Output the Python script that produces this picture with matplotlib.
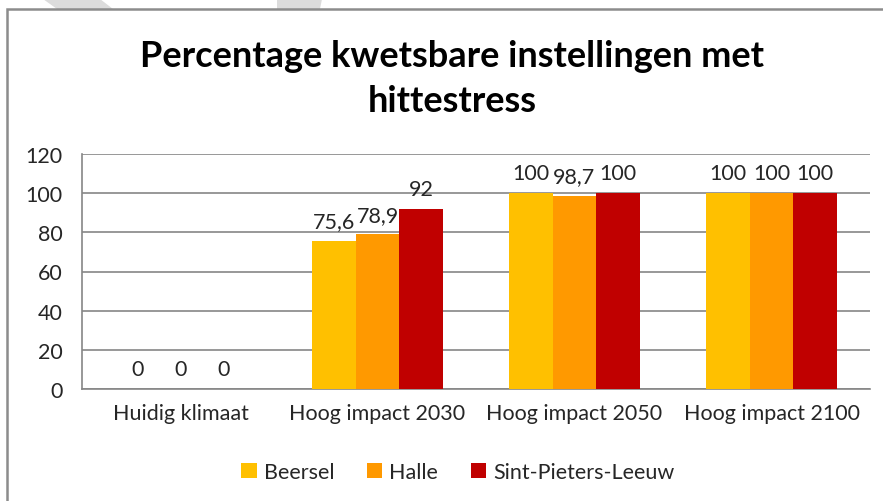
import numpy as np
import matplotlib
matplotlib.use("Agg")
import matplotlib.pyplot as plt
from matplotlib.patches import Rectangle, Polygon

plt.rcParams['font.family'] = ['Lato', 'DejaVu Sans']

categories = ["Huidig klimaat", "Hoog impact 2030", "Hoog impact 2050", "Hoog impact 2100"]
series_names = ["Beersel", "Halle", "Sint-Pieters-Leeuw"]
beersel = [0, 75.6, 100, 100]
halle = [0, 78.9, 98.7, 100]
spl = [0, 92, 100, 100]
yticks = [0, 20, 40, 60, 80, 100, 120]

colors = ["#FFC000", "#FF9900", "#C00000"]
text_color = "#262626"
grid_color = "#868686"

fig = plt.figure(figsize=(8.83, 5.02), dpi=100)
fig.patch.set_facecolor("white")

# chart border + faint watermark shapes at the top
fig.patches.append(Polygon([(43 / 883, 1), (100 / 883, 1), (113 / 883, 1 - 10 / 502), (57 / 883, 1 - 10 / 502)],
                           transform=fig.transFigure, facecolor="#dcdcdc", edgecolor="none", zorder=0))
fig.patches.append(Polygon([(277 / 883, 1), (322 / 883, 1), (320 / 883, 1 - 10 / 502), (277 / 883, 1 - 10 / 502)],
                           transform=fig.transFigure, facecolor="#dcdcdc", edgecolor="none", zorder=0))
fig.patches.append(Rectangle((7 / 883, -0.1), 1.2, 1 - 10 / 502 + 0.1,
                             transform=fig.transFigure, fill=False,
                             edgecolor="#8c8c8c", linewidth=1.8))

ax = fig.add_axes([82 / 883, 1 - 390 / 502, 788 / 883, 235 / 502])

x = np.arange(len(categories))
w = 0.22
for i, (vals, name) in enumerate(zip([beersel, halle, spl], series_names)):
    bars = ax.bar(x + (i - 1) * w, vals, w, color=colors[i], label=name, zorder=3)
    labels = [f"{v:g}".replace(".", ",") for v in vals]
    ax.bar_label(bars, labels=labels, padding=7, fontsize=15.5, color=text_color)

ax.set_xlim(-0.5, len(categories) - 0.5)
ax.set_ylim(0, 120)
ax.set_yticks(yticks)
ax.yaxis.grid(True, color=grid_color, linewidth=1.2, zorder=0)
ax.set_axisbelow(True)
ax.tick_params(axis="both", length=0, labelsize=15.5, colors=text_color)
ax.tick_params(axis="y", pad=14)
ax.tick_params(axis="x", pad=10)
ax.set_xticks(x)
ax.set_xticklabels(categories)
for s in ["top", "right"]:
    ax.spines[s].set_visible(False)
for s in ["left", "bottom"]:
    ax.spines[s].set_color(grid_color)
    ax.spines[s].set_linewidth(1.2)

fig.text(452 / 883, 1 - 79 / 502, "Percentage kwetsbare instellingen met\nhittestress",
         ha="center", va="center", fontsize=26, fontweight="bold", color="black",
         linespacing=1.45)

ax.legend(loc="center", bbox_to_anchor=(458 / 883, 1 - 473 / 502),
          bbox_transform=fig.transFigure, ncol=3, frameon=False, fontsize=15.5,
          handlelength=0.7, handleheight=0.7, handletextpad=0.35, columnspacing=1.5,
          labelcolor=text_color)

fig.savefig("out.png", dpi=100, facecolor="white")
